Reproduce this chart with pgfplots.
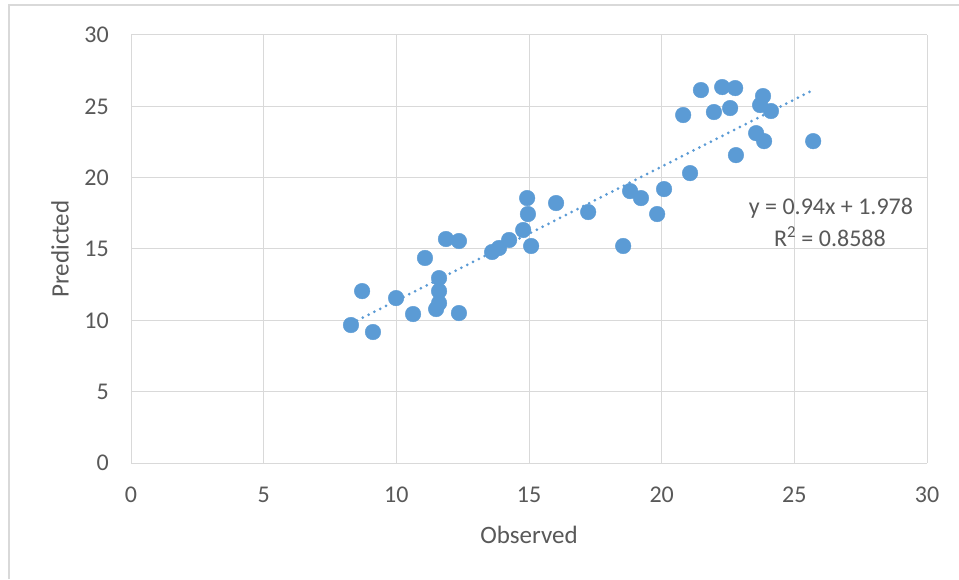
\documentclass[border=0pt]{standalone}
\usepackage{fontspec}
\setmainfont{Carlito}
\usepackage{pgfplots}
\pgfplotsset{compat=1.18}
\definecolor{mblue}{HTML}{5B9BD5}
\definecolor{tgray}{HTML}{595959}
\definecolor{ggray}{HTML}{D9D9D9}
\begin{document}
\fontsize{24}{29}\selectfont
\begin{tikzpicture}[x=1pt,y=1pt]
\useasboundingbox (0,0) rectangle (959,579);
\fill[white] (0,0) rectangle (959,579);
\draw[ggray, line width=2pt] (9,0) -- (9,574) -- (959,574);
\begin{axis}[
  at={(131pt,116pt)}, anchor=south west,
  scale only axis, width=796pt, height=428pt,
  xmin=0, xmax=30, ymin=0, ymax=30,
  xtick={0,5,...,30}, ytick={0,5,...,30},
  grid=major, major grid style={ggray, line width=1pt},
  axis line style={ggray, line width=1pt},
  axis x line*=bottom, axis y line*=left,
  major tick length=0pt,
  /pgf/number format/assume math mode=true,
  ticklabel style={font=\fontsize{24}{29}\selectfont, text=tgray, inner sep=0pt},
  yticklabel style={anchor=east, xshift=-22pt},
  xticklabel style={anchor=center, yshift=-32pt},
  xlabel={Observed}, ylabel={Predicted},
  label style={font=\fontsize{25}{30}\selectfont, text=tgray, inner sep=0pt},
  xlabel style={at={(axis description cs:0.5,0)}, anchor=center, yshift=-72pt},
  ylabel style={at={(axis description cs:0,0.5)}, anchor=center, yshift=71pt},
  clip=false,
]
\addplot[mblue, line width=3pt, line cap=round, dash pattern=on 0pt off 6.5pt]
  coordinates {(8.3,9.780) (25.71,26.145)};
\addplot[only marks, mark=*, mark size=7.8pt, mark options={fill=mblue, draw=mblue}]
  coordinates {
  (8.29,9.67) (8.71,12.05) (9.12,9.18) (9.99,11.56) (10.63,10.44)
  (11.08,14.37) (11.50,10.79) (11.61,11.21) (11.61,12.05) (11.61,12.96)
  (11.87,15.70) (12.36,15.56) (12.36,10.51) (13.61,14.79) (13.87,15.07)
  (14.25,15.63) (14.78,16.33) (14.93,18.57) (14.96,17.45) (15.08,15.21)
  (16.02,18.22) (17.23,17.59) (18.55,15.21) (18.81,19.06) (19.22,18.57)
  (19.83,17.45) (20.09,19.20) (20.81,24.39) (21.07,20.32) (21.48,26.14)
  (21.97,24.60) (22.28,26.35) (22.58,24.88) (22.77,26.28) (22.80,21.58)
  (23.56,23.12) (23.71,25.09) (23.82,25.72) (23.86,22.56) (24.12,24.67)
  (25.71,22.56)
  };
\node[text=tgray, font=\fontsize{24}{29}\selectfont, inner sep=0pt] at (axis cs:26.38,17.87) {y = 0.94x + 1.978};
\node[text=tgray, font=\fontsize{24}{29}\selectfont, inner sep=0pt] at (axis cs:26.34,15.84) {R\textsuperscript{2} = 0.8588};
\end{axis}
\end{tikzpicture}
\end{document}
